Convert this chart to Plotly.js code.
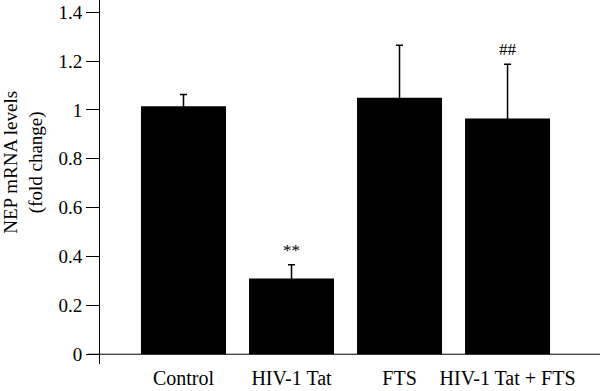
<!DOCTYPE html>
<html>
<head>
<meta charset="utf-8">
<script src="https://cdn.plot.ly/plotly-3.0.1.min.js"></script>
<style>html,body{margin:0;padding:0;background:#fff;}#chart{width:600px;height:391px;}</style>
</head>
<body>
<div id="chart"></div>
<script>
var categories = ["Control", "HIV-1 Tat", "FTS", "HIV-1 Tat + FTS"];
var meanValues = [1.015, 0.31, 1.05, 0.965];
var errorValues = [0.048, 0.056, 0.215, 0.222];
var markers = ["", "**", "", "##"];
var yTickValues = [0, 0.2, 0.4, 0.6, 0.8, 1, 1.2, 1.4];

var xPos = categories.map(function (c, i) { return i; });
var serif = "Liberation Serif";

var trace = {
  type: "bar",
  x: xPos,
  y: meanValues,
  width: 0.787,
  marker: { color: "#000000", line: { color: "#000000", width: 0 } },
  error_y: {
    type: "data",
    array: errorValues,
    visible: true,
    color: "#000000",
    thickness: 1.5,
    width: 3.5
  },
  hoverinfo: "skip"
};

var annotations = [];
markers.forEach(function (m, i) {
  if (m) {
    annotations.push({
      x: xPos[i], y: meanValues[i] + errorValues[i],
      xref: "x", yref: "y",
      text: m, showarrow: false,
      yanchor: "bottom", yshift: 3,
      font: { family: serif, size: 17, color: "#000" }
    });
  }
});
annotations.push({
  x: -0.152, y: 0.553, xref: "paper", yref: "paper",
  text: "NEP mRNA levels<br>(fold change)",
  textangle: -90, showarrow: false,
  xanchor: "center", yanchor: "middle",
  font: { family: serif, size: 19, color: "#000" }
});

var layout = {
  width: 600, height: 391,
  margin: { l: 100, r: 0, t: 0, b: 27 },
  paper_bgcolor: "#fff", plot_bgcolor: "#fff",
  showlegend: false,
  font: { family: serif, color: "#000" },
  xaxis: {
    range: [-0.773, 3.856],
    tickmode: "array",
    tickvals: xPos,
    ticktext: categories,
    ticks: "",
    showline: false,
    showgrid: false,
    zeroline: false,
    tickfont: { family: serif, size: 20, color: "#000" }
  },
  yaxis: {
    range: [-0.04, 1.45],
    tickmode: "array",
    tickvals: yTickValues,
    ticksuffix: "\u00a0\u2009",
    ticks: "outside",
    ticklen: 13,
    tickwidth: 1,
    tickcolor: "#000",
    showline: true,
    linecolor: "#000",
    linewidth: 1,
    showgrid: false,
    zeroline: false,
    tickfont: { family: serif, size: 19, color: "#000" }
  },
  shapes: [{
    type: "line", xref: "paper", yref: "y",
    x0: -0.024, x1: 1, y0: 0, y1: 0,
    line: { color: "#000", width: 1 }
  }],
  annotations: annotations
};

Plotly.newPlot("chart", [trace], layout, { displayModeBar: false, staticPlot: true });
</script>
</body>
</html>
